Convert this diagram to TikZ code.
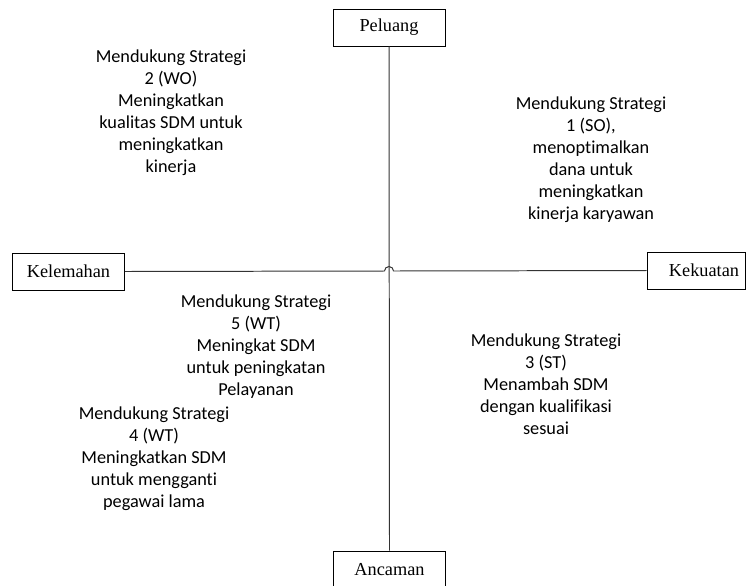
\documentclass[tikz,border=0pt]{standalone}
\usepackage{fontspec}
\setmainfont{Liberation Serif}
\newfontfamily\isifont[Ligatures=NoCommon]{Carlito}
\usepackage{tikz}
\usetikzlibrary{calc,positioning,shadows}
\tikzset{%
	faktor/.style   = {draw, rectangle, fill=white, minimum width=2.8cm, minimum height=0.925cm, text centered, inner sep=2pt,
	                   font=\fontsize{13}{15.6}\selectfont,
	                   drop shadow={opacity=0.18, shadow xshift=0.6pt, shadow yshift=-0.9pt}},
	strategi/.style = {align=center, inner sep=0pt, font=\isifont\fontsize{13}{15.65}\selectfont},
	garis/.style    = {draw=black!80, line width=0.7pt},
}

\begin{document}
\begin{tikzpicture}[x=0.025cm,y=-0.025cm]
	\useasboundingbox (0,0) rectangle (747,585);
	% faktor SWOT
	\node[faktor] (peluang) at (389,27.5) {Peluang};
	\node[faktor] (kelemahan) at (68.5,271.5) {Kelemahan};
	\node[faktor, minimum width=2.45cm, text width=2.15cm, align=right, inner xsep=0.15cm] (kekuatan) at (696,270.5) {Kekuatan};
	\node[faktor] (ancaman) at (389.5,569.5) {Ancaman};
	
	\coordinate (silang) at (389,271);
	\draw[garis] (peluang.south) -- (ancaman.north);
	\draw[garis] (kelemahan.east) -- ($(silang)+(-4.5,0)$) arc[start angle=180, end angle=0, radius=0.1125cm] -- (kekuatan.west);
	
	% strategi tiap kuadran
	\node[strategi] (so) at (591,160) {Mendukung Strategi\\1 (SO),\\menoptimalkan\\dana untuk\\meningkatkan\\kinerja karyawan};
	\node[strategi] (wo) at (171,113) {Mendukung Strategi\\2 (WO)\\Meningkatkan\\kualitas SDM untuk\\meningkatkan\\kinerja};
	\node[strategi] (st) at (546,384.5) {Mendukung Strategi\\3 (ST)\\Menambah SDM\\dengan kualifikasi\\sesuai};
	\node[strategi] (wt5) at (256,347) {Mendukung Strategi\\5 (WT)\\Meningkat SDM\\untuk peningkatan\\Pelayanan};
	\node[strategi] (wt4) at (154,459) {Mendukung Strategi\\4 (WT)\\Meningkatkan SDM\\untuk mengganti\\pegawai lama};
\end{tikzpicture}
\end{document}
